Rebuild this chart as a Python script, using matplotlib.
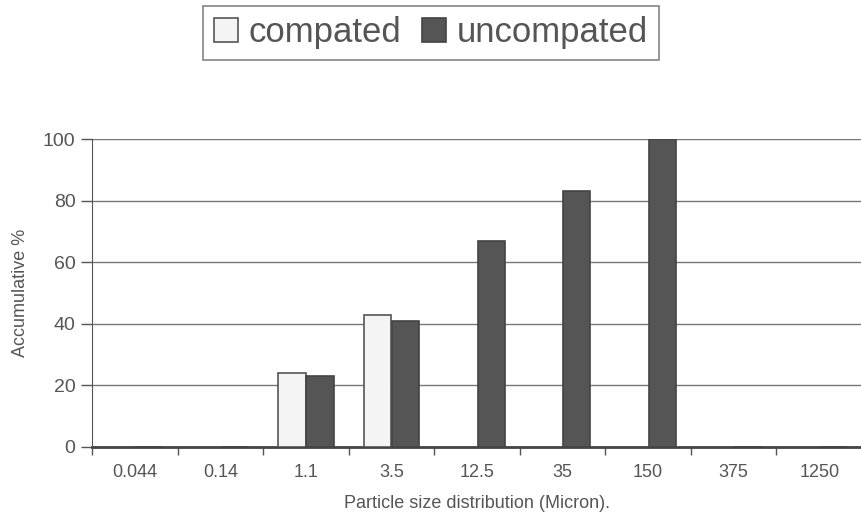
import matplotlib
matplotlib.use("Agg")
import matplotlib.pyplot as plt
import numpy as np

categories = ["0.044", "0.14", "1.1", "3.5", "12.5", "35", "150", "375", "1250"]
compacted = [0, 0, 24, 43, 0, 0, 0, 0, 0]
uncompacted = [0, 0, 23, 41, 67, 83, 100, 0, 0]

plt.rcParams['font.family'] = ['Liberation Sans', 'DejaVu Sans']

fig = plt.figure(figsize=(8.62, 5.22), dpi=100)
ax = fig.add_axes([0.107, 0.1437, 0.893, 0.59])

x = np.arange(len(categories))
w = 0.32
ax.bar(x - w / 2 - 0.005, compacted, width=w, color='#f4f4f4', edgecolor='#555555',
       linewidth=1.2, label='compated', zorder=3)
ax.bar(x + w / 2 + 0.005, uncompacted, width=w, color='#555555', edgecolor='#444444',
       linewidth=1.2, label='uncompated', zorder=3)

ax.set_xlim(-0.5, len(categories) - 0.5)
ax.set_ylim(0, 100)
ax.set_yticks([0, 20, 40, 60, 80, 100])
ax.yaxis.grid(True, color='#777777', linewidth=1)
ax.set_axisbelow(True)
ax.set_xticks(x)
ax.set_xticklabels(categories, fontsize=13, color='#555555')
ax.set_xticks(np.arange(-0.5, len(categories)), minor=True)
ax.tick_params(axis='x', which='major', length=0, pad=12)
ax.tick_params(axis='x', which='minor', length=6, color='#555555', width=1)
ax.tick_params(axis='y', labelsize=14, colors='#555555', length=8, width=1, pad=4)
for s in ['top', 'right']:
    ax.spines[s].set_visible(False)
ax.spines['left'].set_color('#555555')
ax.spines['bottom'].set_color('#444444')
ax.spines['bottom'].set_linewidth(2)

ax.set_xlabel('Particle size distribution (Micron).', fontsize=13, color='#555555', labelpad=10)
ax.set_ylabel('Accumulative %', fontsize=13, color='#555555', labelpad=10)

leg = fig.legend(loc='center', bbox_to_anchor=(0.5, 0.937), ncol=2,
                 prop={'size': 25}, frameon=True, fancybox=False, edgecolor='#666666',
                 handlelength=0.7, handleheight=0.7, handletextpad=0.3,
                 columnspacing=0.6, borderpad=0.3)
leg.get_frame().set_linewidth(1.2)
for t in leg.get_texts():
    t.set_color('#555555')

fig.savefig('out.png', dpi=100)
